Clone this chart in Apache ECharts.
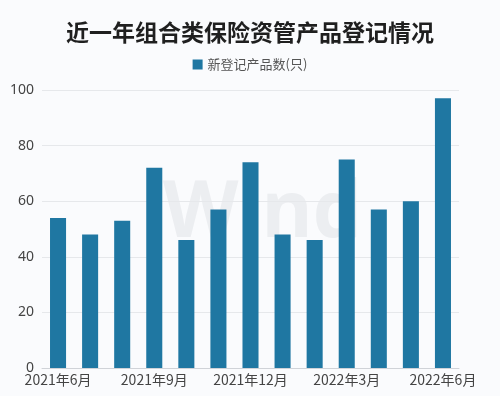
<!DOCTYPE html>
<html><head><meta charset="utf-8">
<script src="https://cdn.jsdelivr.net/npm/echarts@6/dist/echarts.min.js"></script>
<style>html,body{margin:0;padding:0;background:#fafbfd;}#c{width:500px;height:396px;}</style>
</head><body><div id="c"></div>
<script>
const categories = ['2021年6月','2021年7月','2021年8月','2021年9月','2021年10月','2021年11月','2021年12月','2022年1月','2022年2月','2022年3月','2022年4月','2022年5月','2022年6月'];
const values = [54, 48, 53, 72, 46, 57, 74, 48, 46, 75, 57, 60, 97];
const yTicks = [0, 20, 40, 60, 80, 100];
const seriesName = '新登记产品数(只)';
const titleText = '近一年组合类保险资管产品登记情况';

const chart = echarts.init(document.getElementById('c'));
chart.setOption({
  backgroundColor: '#fafbfd',
  animation: false,
  title: {
    text: titleText, left: 'center', top: 16,
    textStyle: { fontSize: 23, fontWeight: 'bold', color: '#1f1f1f', fontFamily: 'Noto Sans CJK SC' }
  },
  legend: {
    data: [seriesName], top: 53, left: 'center', icon: 'rect', itemWidth: 10, itemHeight: 10, itemGap: 5,
    textStyle: { fontSize: 13, color: '#555', fontFamily: 'Noto Sans CJK SC' }
  },
  graphic: [{
    type: 'text', left: 163, top: 176, z: -1, silent: true,
    style: { text: 'Wind', fontSize: 78, fontWeight: 'bold', fill: '#eceef1', fontFamily: 'Noto Sans' }
  }],
  grid: { left: 42, right: 41, top: 90, bottom: 28, containLabel: false },
  xAxis: {
    type: 'category', data: categories,
    axisLine: { lineStyle: { color: '#d0d3d8' } },
    axisTick: { show: false },
    axisLabel: { interval: 2, fontSize: 14, color: '#444', margin: 5, fontFamily: 'Noto Sans CJK SC' }
  },
  yAxis: {
    type: 'value', min: yTicks[0], max: yTicks[yTicks.length - 1], interval: 20,
    axisLine: { show: false }, axisTick: { show: false },
    axisLabel: { fontSize: 14, color: '#444', margin: 8, fontFamily: 'Noto Sans' },
    splitLine: { lineStyle: { color: '#e6e8eb' } }
  },
  series: [{
    name: seriesName, type: 'bar', data: values, barWidth: '50%',
    itemStyle: { color: '#1f77a2' }
  }]
});
</script></body></html>
